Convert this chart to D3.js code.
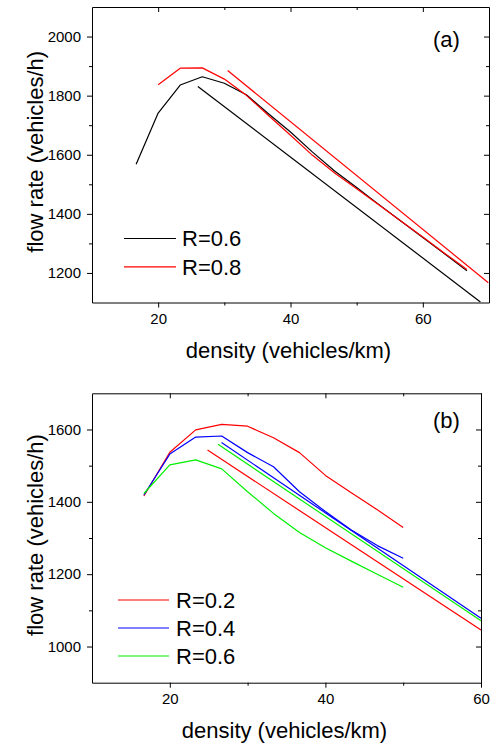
<!DOCTYPE html>
<html><head><meta charset="utf-8">
<script src="https://cdn.jsdelivr.net/npm/d3@7"></script>
<style>
body{margin:0;background:#fff}
text{font-family:"Liberation Sans",Arial,Helvetica,sans-serif;fill:#000}
</style>
</head><body>
<svg id="c" width="500" height="745"></svg>
<script>
// ---------- data: panel (a) ----------
const densityA = [16.67, 20, 23.33, 26.67, 30, 33.33, 36.67, 40, 43.33, 46.67, 50, 53.33, 56.67, 60, 63.33, 66.67];
const flowA_R06 = [1568, 1741, 1836, 1864, 1842, 1803, 1739, 1677, 1609, 1545, 1489, 1432, 1376, 1320, 1264, 1207];
const densityA_R08 = [20, 23.33, 26.67, 30, 33.33, 36.67, 40, 43.33, 46.67, 50, 53.33, 56.67, 60, 63.33, 66.67];
const flowA_R08 = [1837, 1893, 1894, 1856, 1801, 1733, 1666, 1598, 1538, 1485, 1431, 1376, 1322, 1266, 1212];
const lineA_R06_density = [26.0, 68.7];
const lineA_R06_flow = [1831, 1102];
const lineA_R08_density = [30.5, 69.9];
const lineA_R08_flow = [1885, 1167];
const xTicksA = [20, 40, 60];
const xMinorA = [30, 50];
const yTicksA = [1200, 1400, 1600, 1800, 2000];
const yMinorA = [1300, 1500, 1700, 1900];
const legendA = ["R=0.6", "R=0.8"];

// ---------- data: panel (b) ----------
const densityB = [16.67, 20, 23.33, 26.67, 30, 33.33, 36.67, 40, 43.33, 46.67, 50];
const flowB_R02 = [1416, 1537, 1599, 1614, 1609, 1577, 1536, 1473, 1425, 1378, 1329];
const flowB_R04 = [1419, 1532, 1579, 1582, 1536, 1497, 1428, 1373, 1322, 1279, 1244];
const flowB_R06 = [1423, 1502, 1516, 1491, 1428, 1368, 1315, 1273, 1236, 1200, 1164];
const lineB_R02_density = [24.85, 60];
const lineB_R02_flow = [1543, 1046];
const lineB_R04_density = [26.65, 60];
const lineB_R04_flow = [1564, 1078];
const lineB_R06_density = [26.2, 60];
const lineB_R06_flow = [1559, 1071];
const xTicksB = [20, 40, 60];
const xMinorB = [30, 50];
const yTicksB = [1000, 1200, 1400, 1600];
const yMinorB = [1100, 1300, 1500];
const legendB = ["R=0.2", "R=0.4", "R=0.6"];

const svg = d3.select('#c');
const fmt = d3.format('d');

function panel(cfg) {
  const x = d3.scaleLinear().domain(cfg.xDomain).range([cfg.left, cfg.right]);
  const y = d3.scaleLinear().domain(cfg.yDomain).range([cfg.bottom, cfg.top]);
  const g = svg.append('g');
  const clipId = 'clip' + cfg.name;
  svg.append('clipPath').attr('id', clipId).append('rect')
    .attr('x', cfg.left).attr('y', cfg.top)
    .attr('width', cfg.right - cfg.left).attr('height', cfg.bottom - cfg.top);

  const addAxis = (gen, tx, ty) => {
    const a = g.append('g').attr('transform', `translate(${tx},${ty})`).call(gen);
    a.attr('font-size', 15).attr('font-family', '"Liberation Sans",Arial,sans-serif');
    a.selectAll('line,path').attr('stroke', '#000').attr('stroke-width', 1);
    return a;
  };
  // bottom
  addAxis(d3.axisBottom(x).tickValues(cfg.xTicks).tickFormat(fmt).tickSize(5).tickSizeOuter(0).tickPadding(5.5), 0, cfg.bottom);
  addAxis(d3.axisBottom(x).tickValues(cfg.xMinor).tickSize(3).tickSizeOuter(0).tickFormat(''), 0, cfg.bottom).select('.domain').remove();
  // left
  addAxis(d3.axisLeft(y).tickValues(cfg.yTicks).tickFormat(fmt).tickSize(5).tickSizeOuter(0).tickPadding(6), cfg.left, 0);
  addAxis(d3.axisLeft(y).tickValues(cfg.yMinor).tickSize(3).tickSizeOuter(0).tickFormat(''), cfg.left, 0).select('.domain').remove();
  // top (inward)
  addAxis(d3.axisTop(x).tickValues(cfg.xTicks).tickSize(-5).tickSizeOuter(0).tickFormat(''), 0, cfg.top);
  addAxis(d3.axisTop(x).tickValues(cfg.xMinor).tickSize(-3).tickSizeOuter(0).tickFormat(''), 0, cfg.top).select('.domain').remove();
  // right (inward)
  addAxis(d3.axisRight(y).tickValues(cfg.yTicks).tickSize(-5).tickSizeOuter(0).tickFormat(''), cfg.right, 0);
  addAxis(d3.axisRight(y).tickValues(cfg.yMinor).tickSize(-3).tickSizeOuter(0).tickFormat(''), cfg.right, 0).select('.domain').remove();

  const line = d3.line().x(d => x(d[0])).y(d => y(d[1]));
  const plot = g.append('g').attr('clip-path', `url(#${clipId})`);
  cfg.series.forEach(s => {
    plot.append('path').attr('d', line(d3.zip(s.x, s.y)))
      .attr('fill', 'none').attr('stroke', s.color).attr('stroke-width', 1.2)
      .attr('stroke-linejoin', 'round');
  });

  // legend
  cfg.legend.forEach((lab, i) => {
    const ly = cfg.legY0 + i * cfg.legDy;
    g.append('line').attr('x1', cfg.legX1).attr('x2', cfg.legX2).attr('y1', ly).attr('y2', ly)
      .attr('stroke', cfg.legColors[i]).attr('stroke-width', 1.2);
    g.append('text').attr('x', cfg.legTextX).attr('y', ly).attr('dy', '0.35em')
      .attr('font-size', 22).text(lab);
  });

  // panel label
  g.append('text').attr('x', cfg.labX).attr('y', cfg.labY).attr('font-size', 22).text(cfg.label);

  // axis titles
  g.append('text').attr('x', (cfg.left + cfg.right) / 2 - 2).attr('y', cfg.bottom + 55)
    .attr('text-anchor', 'middle').attr('font-size', 22).text('density (vehicles/km)');
  g.append('text').attr('transform', `translate(43,${(cfg.top + cfg.bottom) / 2 - 3}) rotate(-90)`)
    .attr('text-anchor', 'middle').attr('font-size', 22).text('flow rate (vehicles/h)');
}

panel({
  name: 'a', left: 92, right: 489, top: 7, bottom: 302.5,
  xDomain: [10, 70], yDomain: [1100, 2100],
  xTicks: xTicksA, xMinor: xMinorA, yTicks: yTicksA, yMinor: yMinorA,
  series: [
    {x: densityA, y: flowA_R06, color: '#000000'},
    {x: lineA_R06_density, y: lineA_R06_flow, color: '#000000'},
    {x: densityA_R08, y: flowA_R08, color: '#ff0000'},
    {x: lineA_R08_density, y: lineA_R08_flow, color: '#ff0000'}
  ],
  legend: legendA, legColors: ['#000000', '#ff0000'],
  legX1: 124, legX2: 176, legY0: 238.5, legDy: 28.3, legTextX: 182,
  label: '(a)', labX: 433, labY: 47
});

panel({
  name: 'b', left: 92, right: 481, top: 393.3, bottom: 682.7,
  xDomain: [10, 60], yDomain: [900, 1700],
  xTicks: xTicksB, xMinor: xMinorB, yTicks: yTicksB, yMinor: yMinorB,
  series: [
    {x: densityB, y: flowB_R02, color: '#ff0000'},
    {x: lineB_R02_density, y: lineB_R02_flow, color: '#ff0000'},
    {x: densityB, y: flowB_R04, color: '#0000ff'},
    {x: lineB_R04_density, y: lineB_R04_flow, color: '#0000ff'},
    {x: densityB, y: flowB_R06, color: '#00f000'},
    {x: lineB_R06_density, y: lineB_R06_flow, color: '#00f000'}
  ],
  legend: legendB, legColors: ['#ff0000', '#0000ff', '#00f000'],
  legX1: 118, legX2: 169, legY0: 600, legDy: 28, legTextX: 176,
  label: '(b)', labX: 433, labY: 428
});
</script>
</body></html>
